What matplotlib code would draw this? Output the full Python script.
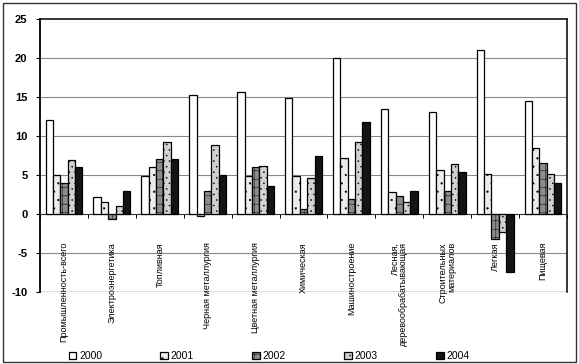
import matplotlib
matplotlib.use("Agg")
import matplotlib.pyplot as plt
import matplotlib.patches as mpatches
import numpy as np

plt.rcParams['font.family'] = ['Liberation Sans', 'DejaVu Sans']
plt.rcParams['hatch.linewidth'] = 0.35

categories = ["Промышленность-всего", "Электроэнергетика", "Топливная",
              "Черная металлургия", "Цветная металлургия", "Химическая",
              "Машиностроение", "Лесная,\nдеревообрабатывающая",
              "Строительных\nматериалов", "Легкая", "Пищевая"]
years = ["2000", "2001", "2002", "2003", "2004"]
v2000 = [12.0, 2.2, 4.9, 15.2, 15.7, 14.9, 20.0, 13.5, 13.1, 21.0, 14.5]
v2001 = [5.0, 1.6, 6.0, -0.2, 4.9, 4.9, 7.2, 2.8, 5.6, 5.1, 8.4]
v2002 = [4.0, -0.6, 7.0, 3.0, 6.0, 0.7, 1.9, 2.3, 3.0, -3.2, 6.5]
v2003 = [6.9, 1.0, 9.2, 8.9, 6.2, 4.6, 9.2, 1.5, 6.4, -2.3, 5.1]
v2004 = [6.0, 3.0, 7.0, 5.0, 3.6, 7.4, 11.8, 3.0, 5.4, -7.4, 4.0]
series = [v2000, v2001, v2002, v2003, v2004]
yticks = [-10, -5, 0, 5, 10, 15, 20, 25]

colors = ['#ffffff', '#ececec', '#8c8c8c', '#d2d2d2', '#141414']
hatches = [None, '..', '++', '...', None]

fig = plt.figure(figsize=(5.79, 3.64), dpi=100)
ax = fig.add_axes([40/579, 1-292/364, (567-40)/579, (292-19)/364])

n = len(categories)
x = np.arange(n)
w = 1/6.5
handles = []
for j, (vals, yr) in enumerate(zip(series, years)):
    b = ax.bar(x + (j-2)*w, vals, width=w, color=colors[j], edgecolor='black',
               linewidth=0.9, hatch=hatches[j], label=yr, zorder=3)
    handles.append(b)

ax.set_xlim(-0.5, n-0.5)
ax.set_ylim(-10, 25)
ax.set_yticks(yticks)
ax.set_yticklabels([str(t) for t in yticks], fontsize=8, fontweight='bold')
for t in yticks:
    if t not in (0, -10, 25):
        ax.axhline(t, color='#8a8a8a', lw=0.8, zorder=1)
ax.axhline(-10, color='#555555', lw=1.0, zorder=1)

ax.spines['bottom'].set_position(('data', 0))
ax.spines['bottom'].set_color('#333333')
ax.spines['bottom'].set_linewidth(0.8)
ax.spines['left'].set_linewidth(1.3)
ax.spines['top'].set_linewidth(1.1)
ax.spines['right'].set_linewidth(1.1)
ax.set_xticks(np.arange(n+1) - 0.5)
ax.set_xticklabels([])
ax.tick_params(axis='x', length=3, width=0.7, direction='out')
ax.tick_params(axis='y', length=3, width=0.8, pad=6)

for i, c in enumerate(categories):
    ax.text(i, -3.6, c, rotation=90, va='top', ha='center',
            multialignment='right', fontsize=6.5, zorder=4, linespacing=1.0)

fig.legend(handles=handles, labels=years, loc='center', ncol=5,
           bbox_to_anchor=(0.465, 1-356/364), frameon=False, fontsize=7.5,
           handlelength=0.75, handleheight=0.75, handletextpad=0.25,
           columnspacing=5.6)

fig.patches.append(mpatches.Rectangle((3/579, 2/364), 573/579, 359/364,
                                      transform=fig.transFigure, fill=False,
                                      edgecolor='#333333', lw=1.0))

fig.savefig("out.png", dpi=100)
